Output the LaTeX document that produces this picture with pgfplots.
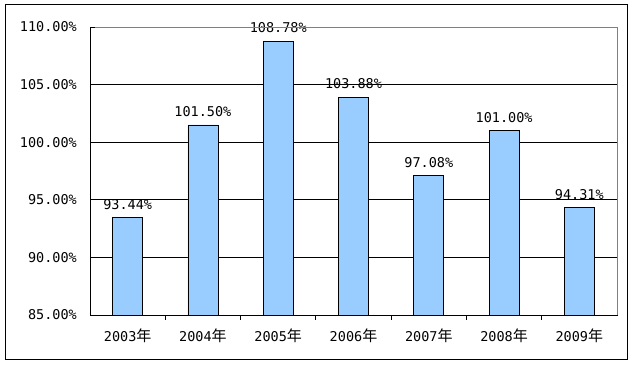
\documentclass[border=0pt]{standalone}
\usepackage{pgfplots}
\pgfplotsset{compat=1.18}
\usepackage{fontspec}
\setmainfont{DejaVu Sans}
\newfontfamily\lab{DejaVu Sans Mono}
\newfontfamily\cjk{Noto Sans CJK SC}
\newcommand{\nian}{{\cjk\fontsize{15}{15}\selectfont 年}}
\definecolor{barblue}{HTML}{99CCFF}
\definecolor{framegray}{HTML}{808080}
\begin{document}
\begin{tikzpicture}
\useasboundingbox (0,0) rectangle (634pt,366pt);
\fill[white] (0,0) rectangle (634pt,366pt);
\draw[black, line width=1pt] (5pt,6pt) rectangle (627pt,361pt);
\begin{axis}[
  at={(90pt,51pt)}, anchor=south west,
  scale only axis, width=527pt, height=288pt,
  xmin=-0.5, xmax=6.5, ymin=85, ymax=110,
  ytick={85,90,...,110},
  ymajorgrids=true,
  grid style={black, line width=0.8pt},
  axis line style={black, line width=0.8pt},
  tick style={black, line width=0.8pt},
  tick align=inside,
  major tick length=5pt,
  xtick pos=bottom, ytick pos=left,
  xtick={0.5,1.5,...,5.5},
  xticklabels={},
  extra x ticks={0,1,2,3,4,5,6},
  extra x tick labels={2003\nian,2004\nian,2005\nian,2006\nian,2007\nian,2008\nian,2009\nian},
  extra x tick style={major tick length=0pt, grid=none},
  /pgf/number format/assume math mode=true,
  yticklabel={\pgfmathprintnumber[fixed,fixed zerofill,precision=2]{\tick}\%},
  yticklabel style={font=\lab\fontsize{13.5}{16}\selectfont, inner sep=0pt, xshift=-13pt, anchor=east},
  xticklabel style={font=\lab\fontsize{13.5}{16}\selectfont, inner sep=0pt, yshift=-14pt, anchor=north},
  ybar, bar width=30pt,
  nodes near coords={\pgfmathprintnumber[fixed,fixed zerofill,precision=2]{\pgfplotspointmeta}\%},
  nodes near coords style={font=\lab\fontsize{13.5}{16}\selectfont, inner sep=0pt, anchor=south, yshift=8pt, black},
  clip=false,
]
\addplot[fill=barblue, draw=black, line width=0.8pt] coordinates {
  (0,93.44) (1,101.50) (2,108.78) (3,103.88) (4,97.08) (5,101.00) (6,94.31)
};
\end{axis}
\draw[framegray, line width=0.8pt] (95pt,339pt) -- (617pt,339pt) -- (617pt,51pt);
\end{tikzpicture}
\end{document}
